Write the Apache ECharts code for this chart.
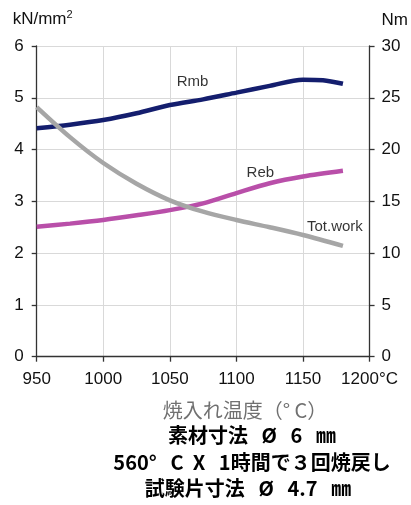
<!DOCTYPE html>
<html>
<head>
<meta charset="utf-8">
<script src="https://cdn.jsdelivr.net/npm/echarts@6/dist/echarts.min.js"></script>
<style>html,body{margin:0;padding:0;background:#fff;}#c{width:411px;height:505px;}</style>
</head>
<body>
<div id="c"></div>
<script>
// temperatures (°C)
const rmbTemps = [950, 975, 1000, 1025, 1050, 1075, 1100, 1125, 1150, 1165, 1180];
const rmbValues = [4.41, 4.48, 4.57, 4.70, 4.86, 4.97, 5.10, 5.23, 5.35, 5.34, 5.27];
const rebTemps = [950, 975, 1000, 1025, 1050, 1075, 1100, 1125, 1150, 1180];
const rebValues = [2.51, 2.57, 2.64, 2.73, 2.83, 2.96, 3.16, 3.35, 3.48, 3.59];
const workTemps = [950, 975, 1000, 1025, 1050, 1075, 1100, 1125, 1150, 1180];
const workValues = [24.1, 21.2, 18.7, 16.7, 15.1, 14.0, 13.2, 12.5, 11.75, 10.7];
const xTicks = [950, 1000, 1050, 1100, 1150, 1200];
const leftTicks = [0, 1, 2, 3, 4, 5, 6];
const rightTicks = [0, 5, 10, 15, 20, 25, 30];
const seriesNames = ['Rmb', 'Reb', 'Tot.work'];
const labelPos = [[1067, 5.31], [1118, 3.55], [1174, 2.51]];
const captionLines = ['焼入れ温度（° C）', '素材寸法   Ø   6   ㎜', '560°   C  X   1時間で３回焼戻し', '試験片寸法   Ø   4.7   ㎜'];

const zip = (a, b) => a.map((v, i) => [v, b[i]]);
const chart = echarts.init(document.getElementById('c'));
const LAT = 'Liberation Sans';
const CJK = 'Noto Sans CJK JP';
const axisLine = {show: true, lineStyle: {color: '#333', width: 1.3}};
const tick = {show: true, length: 5, lineStyle: {color: '#333', width: 1.3}};
const grid = {show: true, lineStyle: {color: '#d9d9d9', width: 1}};
const axisFont = {color: '#111', fontSize: 17, fontFamily: LAT};

chart.setOption({
  animation: false,
  grid: {left: 36.7, right: 40.3, top: 46, bottom: 148.3},
  xAxis: {
    type: 'value', min: xTicks[0], max: xTicks[xTicks.length - 1], interval: 50,
    axisLine: axisLine, axisTick: tick, splitLine: grid,
    axisLabel: Object.assign({margin: 14, formatter: v => v === 1200 ? '1200°C' : String(v)}, axisFont)
  },
  yAxis: [
    {type: 'value', min: leftTicks[0], max: leftTicks[leftTicks.length - 1], interval: 1, position: 'left',
     name: 'kN/mm{s|2}', nameLocation: 'end', nameGap: 17,
     nameTextStyle: {color: '#111', fontSize: 17, fontFamily: LAT, align: 'left', padding: [0, 0, 0, -24],
       rich: {s: {fontSize: 11, fontFamily: LAT, color: '#111', padding: [0, 0, 9, 0]}}},
     axisLine: axisLine, axisTick: tick, splitLine: grid,
     axisLabel: Object.assign({margin: 13}, axisFont)},
    {type: 'value', min: rightTicks[0], max: rightTicks[rightTicks.length - 1], interval: 5, position: 'right',
     name: 'Nm', nameLocation: 'end', nameGap: 17,
     nameTextStyle: {color: '#111', fontSize: 17, fontFamily: LAT, align: 'left', padding: [0, 0, 0, 12]},
     axisLine: axisLine, axisTick: tick, splitLine: {show: false},
     axisLabel: Object.assign({margin: 12}, axisFont)}
  ],
  series: [
    {name: seriesNames[0], type: 'line', smooth: 0.3, showSymbol: false, yAxisIndex: 0,
     data: zip(rmbTemps, rmbValues), lineStyle: {color: '#141e6e', width: 4.5}, itemStyle: {color: '#141e6e'}},
    {name: seriesNames[1], type: 'line', smooth: 0.3, showSymbol: false, yAxisIndex: 0,
     data: zip(rebTemps, rebValues), lineStyle: {color: '#b94fa9', width: 4.5}, itemStyle: {color: '#b94fa9'}},
    {name: seriesNames[2], type: 'line', smooth: 0.3, showSymbol: false, yAxisIndex: 1,
     data: zip(workTemps, workValues), lineStyle: {color: '#a6a6a6', width: 4.5}, itemStyle: {color: '#a6a6a6'}},
    {name: 'labels', type: 'scatter', yAxisIndex: 0, symbolSize: 1, silent: true,
     itemStyle: {color: 'rgba(0,0,0,0)'},
     data: labelPos.map((p, i) => ({value: p, label: {show: true, position: 'inside', formatter: seriesNames[i],
       color: '#000', fontSize: 15, fontFamily: LAT}})),
     z: 5}
  ],
  graphic: [
    {type: 'text', x: 245, y: 410, style: {text: captionLines[0], fill: '#707070', fontSize: 20, fontFamily: CJK, align: 'center', verticalAlign: 'middle'}},
    {type: 'text', x: 252, y: 435, style: {text: captionLines[1], fill: '#000', fontSize: 20, fontWeight: 'bold', fontFamily: CJK, align: 'center', verticalAlign: 'middle'}},
    {type: 'text', x: 252, y: 462, style: {text: captionLines[2], fill: '#000', fontSize: 20, fontWeight: 'bold', fontFamily: CJK, align: 'center', verticalAlign: 'middle'}},
    {type: 'text', x: 248, y: 488, style: {text: captionLines[3], fill: '#000', fontSize: 20, fontWeight: 'bold', fontFamily: CJK, align: 'center', verticalAlign: 'middle'}}
  ]
});
</script>
</body>
</html>
